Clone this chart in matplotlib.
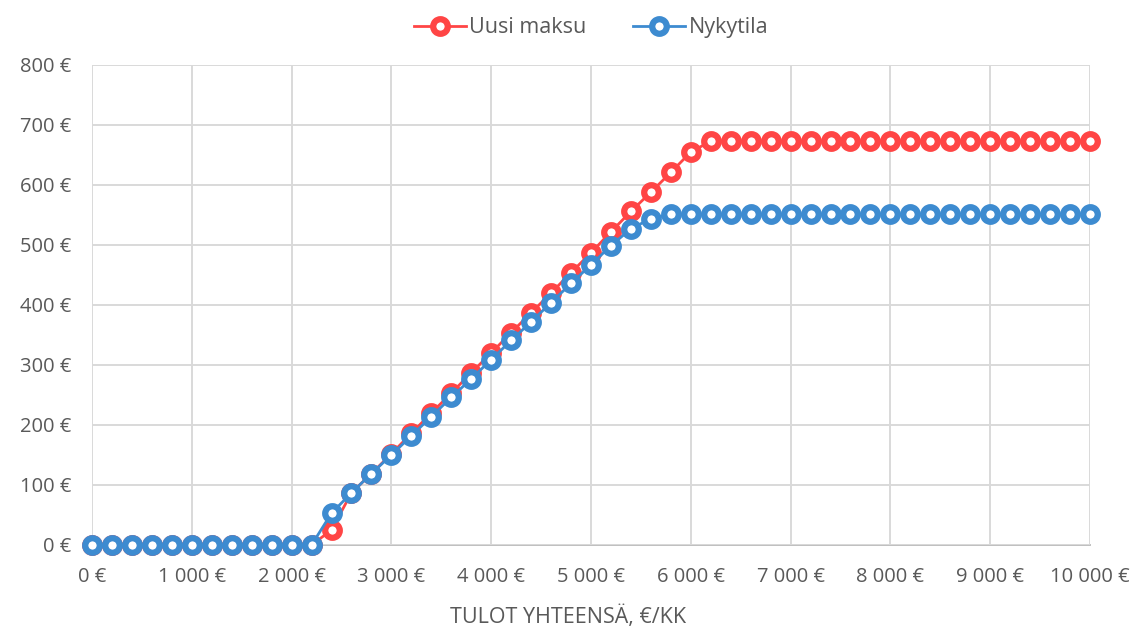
import numpy as np
import matplotlib.pyplot as plt
from matplotlib.ticker import FuncFormatter

plt.rcParams['font.family'] = ['Open Sans', 'DejaVu Sans']

# tulot euroa/kk, 200 € valein
tulot = list(range(0, 10001, 200))

uusi_maksu = [0] * 12 + [25, 87, 119, 152, 186, 220, 253, 287, 320, 354, 387, 420,
                         454, 487, 522, 556, 588, 621, 655] + [673] * 20
nykytila = [0] * 12 + [53, 87, 119, 150, 182, 214, 246, 277, 309, 341, 372, 404,
                       436, 467, 499, 527, 544] + [551] * 22

red = '#FF4545'
blue = '#3D8BD0'
grey_txt = '#595959'


def euro(v, pos):
    s = f'{int(v):,}'.replace(',', ' ')
    return s + ' €'


fig = plt.figure(figsize=(11.37, 6.3), dpi=100)
ax = fig.add_axes([92 / 1137, 85 / 630, 998 / 1137, 480 / 630])

ax.plot(tulot, uusi_maksu, color=red, lw=2, marker='o', ms=10.5, mew=4.5,
        mfc='white', mec=red, label='Uusi maksu', zorder=3, clip_on=False)
ax.plot(tulot, nykytila, color=blue, lw=2, marker='o', ms=10.5, mew=4.5,
        mfc='white', mec=blue, label='Nykytila', zorder=4, clip_on=False)

ax.set_xlim(0, 10000)
ax.set_ylim(0, 800)
ax.set_xticks(range(0, 10001, 1000))
ax.set_yticks(range(0, 801, 100))
ax.xaxis.set_major_formatter(FuncFormatter(euro))
ax.yaxis.set_major_formatter(FuncFormatter(euro))
ax.grid(True, color='#D9D9D9', lw=1.4)
ax.set_axisbelow(True)
for s in ['top', 'right', 'left']:
    ax.spines[s].set_visible(False)
ax.spines['bottom'].set_color('#BFBFBF')
ax.spines['bottom'].set_linewidth(1.4)
ax.spines['bottom'].set_zorder(0)
ax.tick_params(length=0, labelsize=14.5, labelcolor=grey_txt)
ax.tick_params(axis='x', pad=16)
ax.tick_params(axis='y', pad=15)

# akselin otsikko on keskitetty koko kuvaan
fig.text(0.5, 13 / 630, 'TULOT YHTEENSÄ, €/KK', fontsize=15.5, color=grey_txt,
         ha='center', va='center')

ax.legend(loc='lower center', bbox_to_anchor=(0.5, 1.015), ncol=2, frameon=False,
          fontsize=15.5, labelcolor=grey_txt, handlelength=2.4, columnspacing=2.2,
          handletextpad=0.15)

fig.savefig('out.png', dpi=100)
